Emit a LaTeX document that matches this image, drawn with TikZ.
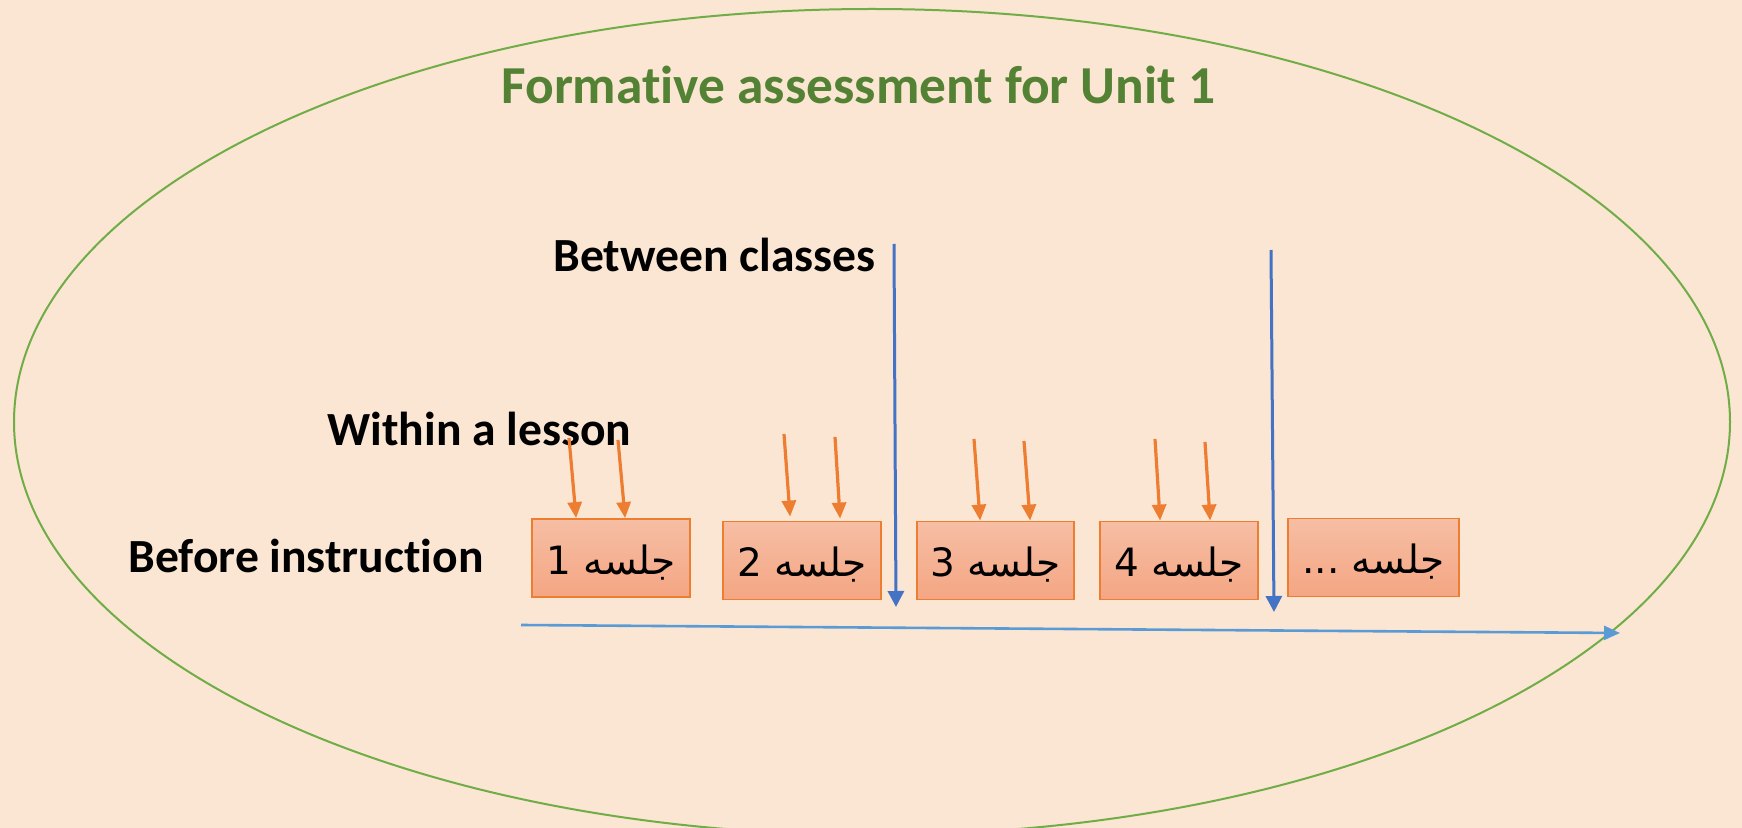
\documentclass[tikz,border=0pt]{standalone}
\usepackage{fontspec}
\setmainfont{Carlito}[Ligatures=NoCommon]
\newfontfamily\arabicfont[Script=Arabic]{DejaVu Sans}
\TeXXeTstate=1
\usetikzlibrary{arrows.meta}
\definecolor{bgc}{HTML}{FBE6D3}
\definecolor{ellc}{HTML}{70AD47}
\definecolor{titlec}{HTML}{548235}
\definecolor{orangec}{HTML}{ED7D31}
\definecolor{boxtop}{HTML}{F6BEA4}
\definecolor{boxbot}{HTML}{F4A683}
\definecolor{vblue}{HTML}{4472C4}
\definecolor{hblue}{HTML}{5B9BD5}
\tikzset{
  lbl/.style={inner sep=0pt, anchor=base west, font=\fontsize{23.8pt}{28pt}\selectfont\bfseries},
  ttl/.style={inner sep=0pt, anchor=base west, text=titlec, font=\fontsize{26.7pt}{31pt}\selectfont\bfseries},
  sessbox/.style={draw=orangec, line width=0.9pt, top color=boxtop, bottom color=boxbot,
     minimum height=39pt, inner sep=0pt, text height=16.5pt, text depth=0pt,
     font=\arabicfont\fontsize{19.5pt}{23pt}\selectfont},
  oarrow/.style={draw=orangec, line width=1.6pt, -{Triangle[length=8pt,width=7pt]}},
  varrow/.style={draw=vblue, line width=1.5pt, -{Triangle[length=8pt,width=8pt]}},
  harrow/.style={draw=hblue, line width=1.3pt, -{Triangle[length=8pt,width=7pt]}},
}
\begin{document}
\begin{tikzpicture}[x=0.5pt,y=-0.5pt]
\fill[bgc] (0,0) rectangle (1742,828);
\useasboundingbox (0,0) rectangle (1742,828);
\begin{scope}
\clip (0,0) rectangle (1742,828);
\draw[ellc, line width=1pt] (872,422) ellipse [x radius=858, y radius=413];
\end{scope}

\node[ttl] (title) at (501,104) {Formative assessment for Unit 1};
\node[lbl] (between) at (553,272) {Between classes};
\node[lbl] (within) at (327,446) {Within a lesson};
\node[lbl] (before) at (128,573) {Before instruction};

\node[sessbox, minimum width=79pt] (b1) at (611,558) {\beginR جلسه 1\endR};
\node[sessbox, minimum width=79pt] (b2) at (802,560.5) {\beginR جلسه 2\endR};
\node[sessbox, minimum width=78.5pt] (b3) at (995.5,560.5) {\beginR جلسه 3\endR};
\node[sessbox, minimum width=79pt] (b4) at (1179,560.5) {\beginR جلسه 4\endR};
\node[sessbox, minimum width=85.5pt] (b5) at (1373.5,557.5) {\beginR جلسه ...\endR};

% orange arrows (within a lesson)
\coordinate (o1a) at (569,438);
\coordinate (o1b) at (618,440);
\coordinate (o2a) at (784,434);
\coordinate (o2b) at (835,437);
\coordinate (o3a) at (974,439);
\coordinate (o3b) at (1024,441);
\coordinate (o4a) at (1155,439);
\coordinate (o4b) at (1205,442);
\draw[oarrow] (o1a) -- ([xshift=22.5pt]b1.north west);
\draw[oarrow] (o1b) -- ([xshift=47pt]b1.north west);
\draw[oarrow] (o2a) -- ([xshift=34pt,yshift=2pt]b2.north west);
\draw[oarrow] (o2b) -- ([xshift=59pt,yshift=1pt]b2.north west);
\draw[oarrow] (o3a) -- ([xshift=32pt]b3.north west);
\draw[oarrow] (o3b) -- ([xshift=57pt]b3.north west);
\draw[oarrow] (o4a) -- ([xshift=30.5pt]b4.north west);
\draw[oarrow] (o4b) -- ([xshift=55.5pt]b4.north west);

% blue vertical arrows (between classes)
\coordinate (v1s) at (894,244);
\coordinate (v1e) at (896,607);
\coordinate (v2s) at (1271,250);
\coordinate (v2e) at (1274,612);
\draw[varrow] (v1s) -- (v1e);
\draw[varrow] (v2s) -- (v2e);

% time axis
\coordinate (hs) at (521,625);
\coordinate (he) at (1620,633);
\draw[harrow] (hs) -- (he);
\end{tikzpicture}
\end{document}
